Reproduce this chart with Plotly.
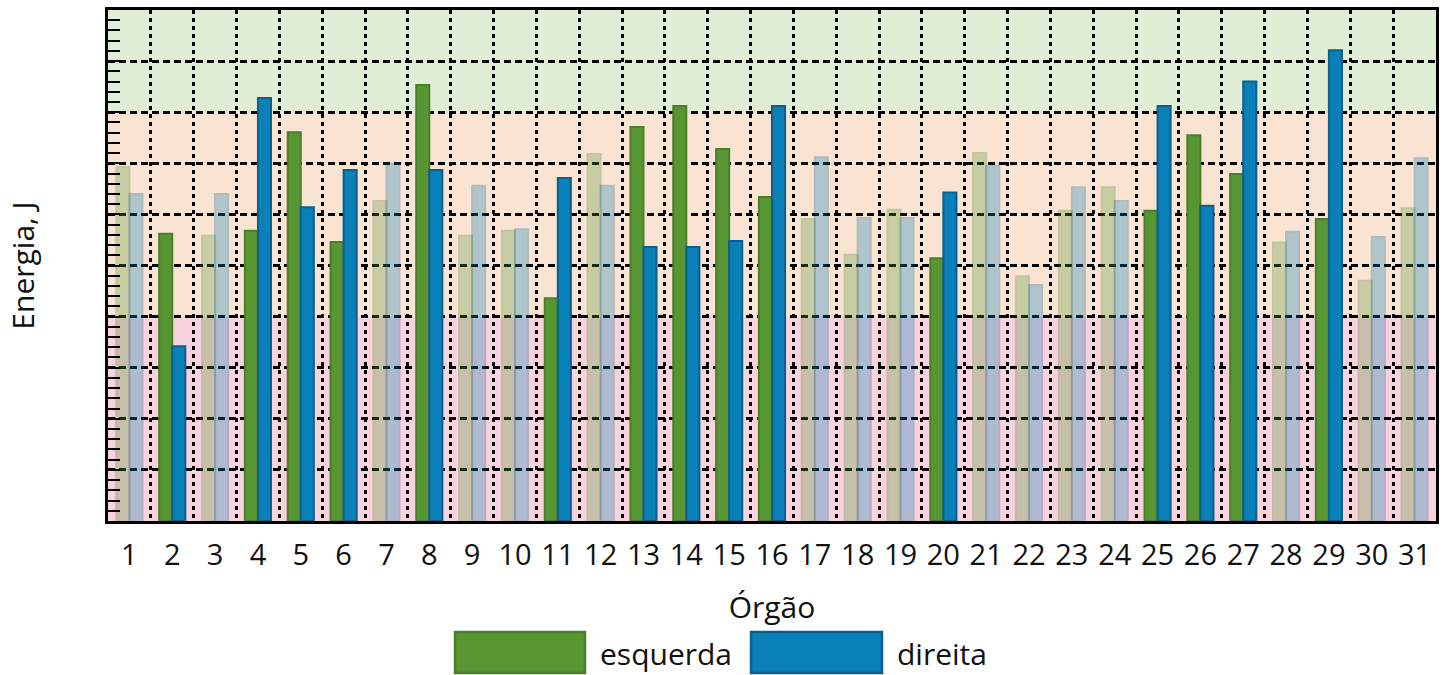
import plotly.graph_objects as go

# ---- data ----
orgaos = list(range(1, 32))
tick_labels = [str(i) for i in orgaos]
esquerda = [6.93, 5.62, 5.58, 5.68, 7.61, 5.46, 6.26, 8.53, 5.58, 5.68, 4.36,
            7.18, 7.71, 8.12, 7.28, 6.34, 5.91, 5.21, 6.09, 5.14, 7.20, 4.79,
            6.07, 6.53, 6.07, 7.55, 6.79, 5.45, 5.91, 4.70, 6.12]
direita = [6.40, 3.42, 6.40, 8.28, 6.14, 6.87, 6.99, 6.87, 6.56, 5.71, 6.71,
           6.56, 5.36, 5.36, 5.48, 8.12, 7.12, 5.93, 5.93, 6.43, 6.95, 4.62,
           6.53, 6.26, 8.12, 6.17, 8.60, 5.66, 9.21, 5.56, 7.10]
destacados = [2, 4, 5, 6, 8, 11, 13, 14, 15, 16, 20, 25, 26, 27, 29]
faixas = [(0, 4, "#f8d2dd"), (4, 8, "#f9e4d4"), (8, 10, "#e1eed6")]

# ---- style ----
FONT = "Open Sans"
GREEN, GREEN_LINE = "#579633", "#4a7f2a"
BLUE, BLUE_LINE = "#0a80b8", "#0b5f8a"
opac = [1.0 if o in destacados else 0.3 for o in orgaos]

fig = go.Figure()
fig.add_trace(go.Bar(x=orgaos, y=esquerda, name="esquerda",
                     marker=dict(color=GREEN, opacity=opac,
                                 line=dict(color=GREEN_LINE, width=2)),
                     showlegend=False))
fig.add_trace(go.Bar(x=orgaos, y=direita, name="direita",
                     marker=dict(color=BLUE, opacity=opac,
                                 line=dict(color=BLUE_LINE, width=2)),
                     showlegend=False))

shapes = []
for y0, y1, c in faixas:
    shapes.append(dict(type="rect", xref="paper", yref="y", x0=0, x1=1,
                       y0=y0, y1=y1, fillcolor=c, line=dict(width=0),
                       layer="below"))

# custom legend (large swatches)
PL, PW, PT, PH = 108, 1328, 10, 511
def px(x):
    return (x - PL) / PW
def py(y):
    return (PT + PH - y) / PH

leg = [("esquerda", GREEN, GREEN_LINE, 455, 585, 598),
       ("direita", BLUE, BLUE_LINE, 751, 882, 895)]
annotations = []
for label, fc, lc, x0, x1, tx in leg:
    shapes.append(dict(type="rect", xref="paper", yref="paper",
                       x0=px(x0), x1=px(x1), y0=py(673), y1=py(632),
                       fillcolor=fc, line=dict(color=lc, width=2.5)))
    annotations.append(dict(xref="paper", yref="paper", x=px(tx), y=py(653),
                            text=label, showarrow=False, xanchor="left",
                            yanchor="middle",
                            font=dict(family=FONT, size=30, color="#111")))

fig.update_layout(
    width=1447, height=675,
    margin=dict(l=PL, r=1447 - PL - PW, t=PT, b=675 - PT - PH),
    paper_bgcolor="white", plot_bgcolor="white",
    barmode="group", bargap=0.39, bargroupgap=0,
    font=dict(family=FONT, size=30, color="#111"),
    shapes=shapes, annotations=annotations, showlegend=False,
)
fig.update_xaxes(
    range=[0.5, 31.5], tickmode="array", tickvals=orgaos, ticktext=tick_labels,
    showgrid=False, ticks="", ticklabelstandoff=6, automargin=False,
    tickfont=dict(family=FONT, size=29, color="#111"),
    title=dict(text="Órgão", standoff=26, font=dict(family=FONT, size=30, color="#111")),
    showline=True, linecolor="black", linewidth=2.5, mirror=True,
    minor=dict(tickmode="array", tickvals=[i + 0.5 for i in orgaos[:-1]],
               showgrid=True, gridcolor="black", gridwidth=2.5,
               griddash="4px,4px", ticks=""),
    zeroline=False,
)
fig.update_yaxes(
    range=[0, 10], dtick=1, tick0=0, showticklabels=False, automargin=False,
    showgrid=True, gridcolor="black", gridwidth=2.5, griddash="7px,4px",
    ticks="inside", ticklen=12, tickwidth=1.5, tickcolor="black",
    minor=dict(dtick=0.2, ticks="inside", ticklen=12, tickwidth=1.5,
               tickcolor="black", showgrid=False),
    title=dict(text="Energia, J", standoff=62, font=dict(family=FONT, size=30, color="#111")),
    showline=True, linecolor="black", linewidth=2.5, mirror=True,
    zeroline=False,
)

fig.write_html("out.html", config={"displayModeBar": False},
               post_script="document.body.style.margin='0';"
                           "document.body.style.overflow='hidden';")
